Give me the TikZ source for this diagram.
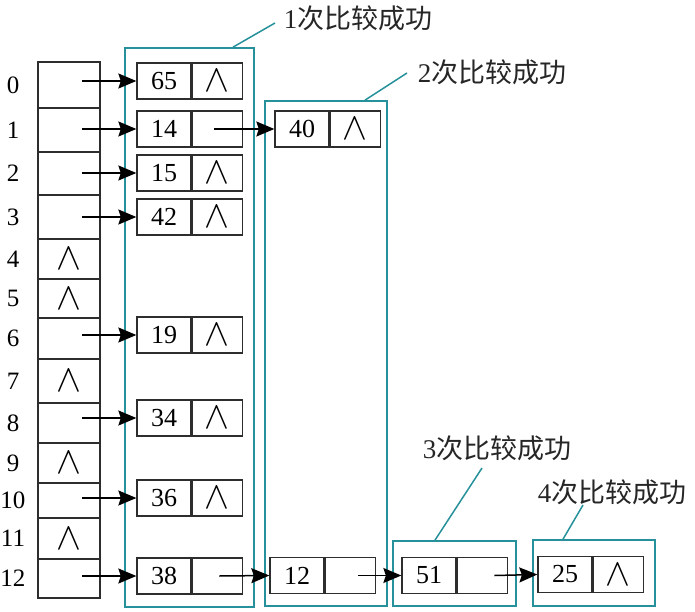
\documentclass[tikz,border=0pt]{standalone}
\usepackage{graphicx}
\usepackage{fontspec}
\setmainfont{Liberation Serif}
\newfontfamily\cjk{Noto Sans CJK SC}
\usetikzlibrary{arrows.meta}
\definecolor{tealline}{RGB}{38,145,155}
\definecolor{inkline}{RGB}{45,45,45}
\newcommand\NullMark{\scalebox{1.5}[1.55]{$\wedge$}}
\tikzset{ptrtip/.tip={Stealth[length=18pt,width=15pt,inset=2.5pt]}}
\begin{document}
\begin{tikzpicture}[x=1pt,y=-1pt,
  cell/.style={draw=inkline,line width=1.3pt,inner sep=0pt,minimum height=36pt,
    font=\fontsize{26}{26}\selectfont},
  dcell/.style={cell,minimum width=54pt},
  pcell/.style={cell,minimum width=50pt,anchor=west},
  slot/.style={draw=inkline,line width=1.3pt,inner sep=0pt,minimum width=62pt},
  idx/.style={font=\fontsize{25}{25}\selectfont,inner sep=0pt},
  nullm/.style={font=\fontsize{24}{24}\selectfont,inner sep=0pt},
  ptr/.style={draw=black,line width=1.5pt,arrows={-ptrtip}},
  grp/.style={draw=tealline,line width=1.7pt,inner sep=0pt},
  lead/.style={draw=tealline,line width=1.5pt},
  lbl/.style={font=\fontsize{27}{27}\selectfont,inner sep=0pt,text=black!85},
]
\useasboundingbox (0,0) rectangle (695,612);

% hash table
\foreach \i/\t/\b in {0/62/108,1/108/152,2/152/195,3/195/239,4/239/279,5/279/318,
  6/318/359,7/359/403,8/403/443,9/443/483,10/483/518,11/518/559,12/559/598}{
  \node[slot,minimum height={(\b-\t)*1pt}] (r\i) at (69,{(\t+\b)/2}) {};
  \node[idx] (l\i) at (13,{(\t+\b)/2}) {\i};
}
\foreach \i in {4,5,7,9,11}{
  \node[nullm] (z\i) at (r\i.center) {\NullMark};
}

% group boxes
\node[grp,minimum width=129pt,minimum height=559pt] (g1) at (189.5,327.5) {};
\node[grp,minimum width=122pt,minimum height=505pt] (g2) at (326,353.5) {};
\node[grp,minimum width=123pt,minimum height=65pt] (g3) at (454.5,573.5) {};
\node[grp,minimum width=122pt,minimum height=66pt] (g4) at (594,573) {};

% list nodes, first column
\foreach \v/\y in {65/81,15/173,42/217,19/335,34/418,36/498}{
  \node[dcell] (d\v) at (164,\y) {\v};
  \node[pcell] (p\v) at (d\v.east) {\NullMark};
}
\node[dcell] (d14) at (164,129) {14};
\node[pcell] (p14) at (d14.east) {};
\node[dcell] (d38) at (164,576) {38};
\node[pcell] (p38) at (d38.east) {};

% second and further
\node[dcell] (d40) at (302,129) {40};
\node[pcell] (p40) at (d40.east) {\NullMark};
\node[dcell] (d12) at (297,575.5) {12};
\node[pcell] (p12) at (d12.east) {};
\node[dcell] (d51) at (429,575.5) {51};
\node[pcell] (p51) at (d51.east) {};
\node[dcell] (d25) at (565,574.5) {25};
\node[pcell] (p25) at (d25.east) {\NullMark};

% arrows from table
\foreach \r/\v in {0/65,1/14,2/15,3/42,6/19,8/34,10/36,12/38}{
  \draw[ptr] ([xshift=13pt]r\r.center |- d\v.west) -- (d\v.west);
}
% chain arrows
\draw[ptr] ([xshift=-3pt]p14.center) -- (d40.west);
\draw[ptr] ([xshift=2pt]p38.center) -- (d12.west);
\draw[ptr] ([xshift=8pt]p12.center) -- (d51.west);
\draw[ptr] ([xshift=12pt]p51.center) -- (d25.west);

% labels
\node[lbl] (t1) at (358,18) {1{\cjk 次比较成功}};
\node[lbl] (t2) at (492,72) {2{\cjk 次比较成功}};
\node[lbl] (t3) at (497,448) {3{\cjk 次比较成功}};
\node[lbl] (t4) at (612,492) {4{\cjk 次比较成功}};
\coordinate (e1) at (275,23);
\coordinate (e2) at (407,73);
\coordinate (e3) at (482,468);
\coordinate (e4) at (583,505);
\draw[lead] ([xshift=43.5pt]g1.north) -- (e1);
\draw[lead] ([xshift=39pt]g2.north) -- (e2);
\draw[lead] ([xshift=-19.5pt]g3.north) -- (e3);
\draw[lead] ([xshift=-31pt]g4.north) -- (e4);
\end{tikzpicture}
\end{document}
